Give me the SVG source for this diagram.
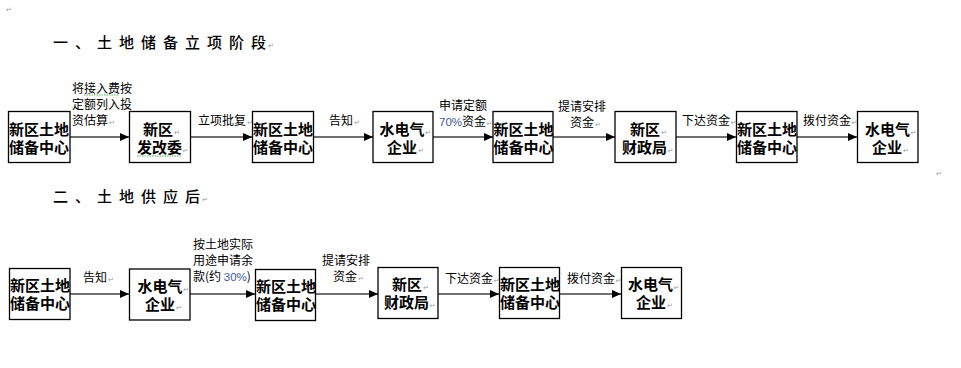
<svg xmlns="http://www.w3.org/2000/svg" width="961" height="368" viewBox="0 0 961 368">
<style>
.bg{fill:#fff}
.box{fill:#fff;stroke:#000;stroke-width:1.3}
.bt{font-family:"Noto Sans CJK SC","Liberation Sans",sans-serif;font-size:15px;font-weight:bold;fill:#000}
.lb{font-family:"Noto Sans CJK SC","Liberation Sans",sans-serif;font-size:12px;fill:#000}
.hd{font-family:"Noto Sans CJK SC","Liberation Serif",serif;font-size:15px;font-weight:500;fill:#000;letter-spacing:7px}
.pm{font-family:"DejaVu Sans",sans-serif;font-size:7px;font-weight:normal;fill:#999;letter-spacing:0}
.pct{font-family:"Liberation Sans",sans-serif;font-size:11.5px;fill:#3a5aa0}
.ln{stroke:#404040;stroke-width:1.5;fill:none}
.sq{stroke:#3a9a3a;stroke-width:0.8;fill:none;stroke-dasharray:1.5 1}
</style>
<defs>
<marker id="ah" markerUnits="userSpaceOnUse" markerWidth="10" markerHeight="9" refX="9" refY="4" orient="auto">
<path d="M0,0 L9,4 L0,8 z" fill="#000"/>
</marker>
</defs>
<rect class="bg" width="961" height="368"/>
<text class="pm" x="6" y="12">↵</text>
<text class="pm" x="936" y="176">↵</text>

<g id="heading1"><text class="hd" x="53" y="48">一、土地储备立项阶<tspan letter-spacing="0">段</tspan><tspan class="pm" dx="2">↵</tspan></text></g>
<g id="heading2"><text class="hd" x="53" y="202">二、土地供应<tspan letter-spacing="0">后</tspan><tspan class="pm" dx="2">↵</tspan></text></g>

<g id="connectors">
<line class="ln" x1="70" y1="137" x2="129" y2="137" marker-end="url(#ah)"/>
<line class="ln" x1="191" y1="137" x2="252" y2="137" marker-end="url(#ah)"/>
<line class="ln" x1="313" y1="137" x2="373" y2="137" marker-end="url(#ah)"/>
<line class="ln" x1="433" y1="137" x2="493" y2="137" marker-end="url(#ah)"/>
<line class="ln" x1="553" y1="137" x2="615" y2="137" marker-end="url(#ah)"/>
<line class="ln" x1="676" y1="137" x2="736" y2="137" marker-end="url(#ah)"/>
<line class="ln" x1="797" y1="137" x2="857" y2="137" marker-end="url(#ah)"/>
<line class="ln" x1="70" y1="294" x2="129" y2="294" marker-end="url(#ah)"/>
<line class="ln" x1="190" y1="294" x2="255" y2="294" marker-end="url(#ah)"/>
<line class="ln" x1="315" y1="294" x2="378" y2="294" marker-end="url(#ah)"/>
<line class="ln" x1="438" y1="294" x2="499" y2="294" marker-end="url(#ah)"/>
<line class="ln" x1="559" y1="294" x2="621" y2="294" marker-end="url(#ah)"/>
</g>

<g id="labels">
<text class="lb" x="72" y="92.5">将接入费按<tspan x="72" y="108.5">定额列入投</tspan><tspan x="72" y="124.5">资估算</tspan><tspan class="pm" dx="1">↵</tspan></text>
<path class="sq" d="M84,95 h35"/>
<text class="lb" x="198" y="124.5">立项批复<tspan class="pm" dx="1">↵</tspan></text>
<text class="lb" x="329" y="124.5">告知<tspan class="pm" dx="1">↵</tspan></text>
<text class="lb" x="439" y="109.5">申请定额<tspan x="439" y="125.5" class="pct">70%</tspan>资金<tspan class="pm" dx="0.5">↵</tspan></text>
<text class="lb" x="558" y="111">提请安排<tspan x="570" y="127">资金</tspan><tspan class="pm" dx="1">↵</tspan></text>
<text class="lb" x="682" y="124.5">下达资金<tspan class="pm" dx="0.5">↵</tspan></text>
<text class="lb" x="803" y="124.5">拨付资金<tspan class="pm" dx="0.5">↵</tspan></text>

<text class="lb" x="83" y="282">告知<tspan class="pm" dx="1">↵</tspan></text>
<text class="lb" x="193" y="249">按土地实际<tspan x="193" y="265">用途申请余</tspan><tspan x="193" y="280.5">款(约 </tspan><tspan class="pct">30%</tspan>)</text>
<text class="lb" x="322" y="265">提请安排<tspan x="333" y="280.5">资金</tspan><tspan class="pm" dx="1">↵</tspan></text>
<text class="lb" x="445" y="282.5">下达资金<tspan class="pm" dx="0.5">↵</tspan></text>
<text class="lb" x="567" y="282.5">拨付资金<tspan class="pm" dx="0.5">↵</tspan></text>
</g>

<g id="n1"><rect class="box" x="8.5" y="111.5" width="61.5" height="51"/><text class="bt" x="9" y="135">新区土地<tspan x="9" y="153">储备中心</tspan></text></g>
<g id="n2"><rect class="box" x="129.5" y="111.5" width="61" height="51"/><text class="bt" x="143" y="135">新区<tspan class="pm" dx="1">↵</tspan><tspan x="137" y="153">发改委</tspan><tspan class="pm" dx="0.5">↵</tspan></text><path class="sq" d="M137,156 h44"/></g>
<g id="n3"><rect class="box" x="252.5" y="111.5" width="61" height="51"/><text class="bt" x="253" y="135">新区土地<tspan x="253" y="153">储备中心</tspan></text></g>
<g id="n4"><rect class="box" x="373" y="111.5" width="60" height="51"/><text class="bt" x="379.5" y="135">水电气<tspan class="pm" dx="0.5">↵</tspan><tspan x="387" y="153">企业</tspan><tspan class="pm" dx="1">↵</tspan></text></g>
<g id="n5"><rect class="box" x="493" y="111.5" width="60" height="51"/><text class="bt" x="493.5" y="135">新区土地<tspan x="493.5" y="153">储备中心</tspan></text></g>
<g id="n6"><rect class="box" x="615" y="111.5" width="61" height="51"/><text class="bt" x="630" y="135">新区<tspan class="pm" dx="1">↵</tspan><tspan x="622" y="153">财政局</tspan><tspan class="pm" dx="0.5">↵</tspan></text></g>
<g id="n7"><rect class="box" x="736.5" y="111.5" width="60.5" height="51"/><text class="bt" x="737" y="135">新区土地<tspan x="737" y="153">储备中心</tspan></text></g>
<g id="n8"><rect class="box" x="857.5" y="111.5" width="60.5" height="51"/><text class="bt" x="865" y="135">水电气<tspan class="pm" dx="0.5">↵</tspan><tspan x="872" y="153">企业</tspan><tspan class="pm" dx="1">↵</tspan></text></g>

<g id="m1"><rect class="box" x="9.5" y="268.5" width="60.5" height="51"/><text class="bt" x="10" y="291">新区土地<tspan x="10" y="309">储备中心</tspan></text></g>
<g id="m2"><rect class="box" x="129.5" y="269" width="60.5" height="51"/><text class="bt" x="137.5" y="292">水电气<tspan class="pm" dx="0.5">↵</tspan><tspan x="145" y="310">企业</tspan><tspan class="pm" dx="1">↵</tspan></text></g>
<g id="m3"><rect class="box" x="255.5" y="269.5" width="60" height="51"/><text class="bt" x="256" y="292">新区土地<tspan x="256" y="310">储备中心</tspan></text></g>
<g id="m4"><rect class="box" x="378" y="267.5" width="60" height="51"/><text class="bt" x="392" y="290">新区<tspan class="pm" dx="1">↵</tspan><tspan x="384" y="308">财政局</tspan><tspan class="pm" dx="0.5">↵</tspan></text></g>
<g id="m5"><rect class="box" x="499.5" y="267.5" width="60" height="51"/><text class="bt" x="500" y="290">新区土地<tspan x="500" y="308">储备中心</tspan></text></g>
<g id="m6"><rect class="box" x="621.5" y="267.5" width="60" height="51"/><text class="bt" x="628" y="290">水电气<tspan class="pm" dx="0.5">↵</tspan><tspan x="636" y="308">企业</tspan><tspan class="pm" dx="1">↵</tspan></text></g>
</svg>
